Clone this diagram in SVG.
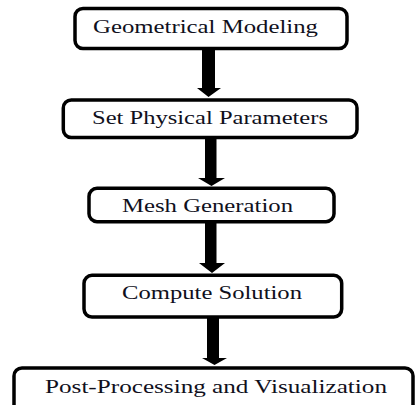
<svg xmlns="http://www.w3.org/2000/svg" width="415" height="405" viewBox="0 0 415 405">
<style>
.box{fill:#fff;stroke:#000;stroke-width:3.5}
.lbl{font-family:"Liberation Serif","Times New Roman",serif;font-size:18px;fill:#10101c}
.arrow{fill:#000;stroke:none}
</style>
<rect width="415" height="405" fill="#fff"/>
<g id="connectors">
<path class="arrow" d="M202 50H215V88H221L208.5 97L197 88H202Z"/>
<path class="arrow" d="M205 139H216.5V178H225L211.5 186L198 178H205Z"/>
<path class="arrow" d="M205 223H216.5V263H225L212 273L199 263H205Z"/>
<path class="arrow" d="M207 318H219V358H227L214.5 365L202 358H207Z"/>
</g>
<g id="node1">
<rect class="box" x="75" y="8.5" width="272" height="40" rx="8"/>
<text class="lbl" x="93" y="33.3" textLength="225" lengthAdjust="spacingAndGlyphs">Geometrical Modeling</text>
</g>
<g id="node2">
<rect class="box" x="63.3" y="100" width="293.7" height="37.5" rx="8"/>
<text class="lbl" x="92" y="124" textLength="236" lengthAdjust="spacingAndGlyphs">Set Physical Parameters</text>
</g>
<g id="node3">
<rect class="box" x="89" y="188.3" width="245" height="33.4" rx="8"/>
<text class="lbl" x="122" y="211.7" textLength="171" lengthAdjust="spacingAndGlyphs">Mesh Generation</text>
</g>
<g id="node4">
<rect class="box" x="84" y="275.3" width="257.7" height="41.7" rx="8"/>
<text class="lbl" x="122" y="299" textLength="180" lengthAdjust="spacingAndGlyphs">Compute Solution</text>
</g>
<g id="node5">
<rect class="box" x="14" y="368" width="399" height="45" rx="8"/>
<text class="lbl" x="45" y="393" textLength="342" lengthAdjust="spacingAndGlyphs">Post-Processing and Visualization</text>
</g>
</svg>
